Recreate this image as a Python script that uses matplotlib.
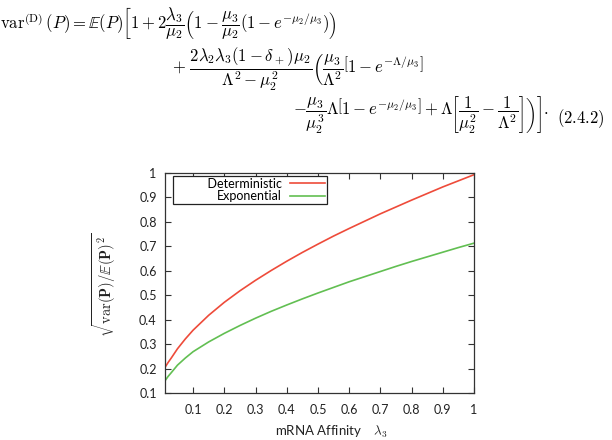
import matplotlib
matplotlib.use('Agg')
import matplotlib.pyplot as plt

plt.rcParams['font.family'] = ['Lato', 'DejaVu Sans']
plt.rcParams['mathtext.fontset'] = 'cm'

# 读图得到的曲线数据
affinity = [0.01, 0.02, 0.03, 0.05, 0.075, 0.1, 0.15, 0.2, 0.25, 0.3, 0.35, 0.4, 0.45,
            0.5, 0.55, 0.6, 0.65, 0.7, 0.75, 0.8, 0.85, 0.9, 0.95, 1.0]
deterministic = [0.205, 0.225, 0.243, 0.281, 0.321, 0.357, 0.418, 0.471, 0.518, 0.561, 0.601,
                 0.639, 0.675, 0.709, 0.742, 0.773, 0.803, 0.833, 0.861, 0.889, 0.916, 0.943,
                 0.968, 0.993]
exponential = [0.150, 0.168, 0.183, 0.214, 0.243, 0.269, 0.309, 0.344, 0.376, 0.406, 0.434,
               0.46, 0.485, 0.509, 0.532, 0.555, 0.576, 0.597, 0.618, 0.638, 0.657,
               0.676, 0.695, 0.713]
xticks = [0.1, 0.2, 0.3, 0.4, 0.5, 0.6, 0.7, 0.8, 0.9, 1.0]
xtick_labels = ['0.1', '0.2', '0.3', '0.4', '0.5', '0.6', '0.7', '0.8', '0.9', '1']
yticks = [0.1, 0.2, 0.3, 0.4, 0.5, 0.6, 0.7, 0.8, 0.9, 1.0]
ytick_labels = ['0.1', '0.2', '0.3', '0.4', '0.5', '0.6', '0.7', '0.8', '0.9', '1']

fig = plt.figure(figsize=(6.12, 4.4), dpi=100)

# 公式部分
eq_size = 12
fig.text(0.0, 1 - 24 / 440,
         r'$\mathrm{var}^{(\mathrm{D})}\,(P) = \mathbb{E}(P)\left[1 + 2\dfrac{\lambda_3}{\mu_2}'
         r'\left(1 - \dfrac{\mu_3}{\mu_2}(1 - e^{-\mu_2/\mu_3})\right)\right.$',
         fontsize=eq_size, va='center', ha='left')
fig.text(172 / 612, 1 - 69 / 440,
         r'$+\ \dfrac{2\lambda_2\lambda_3(1-\delta_+)\mu_2}{\Lambda^2 - \mu_2^2}'
         r'\left(\dfrac{\mu_3}{\Lambda^2}\left[1 - e^{-\Lambda/\mu_3}\right]\right.$',
         fontsize=eq_size, va='center', ha='left')
fig.text(293 / 612, 1 - 114 / 440,
         r'$-\dfrac{\mu_3}{\mu_2^3}\Lambda\left[1 - e^{-\mu_2/\mu_3}\right] + '
         r'\left.\left.\Lambda\left[\dfrac{1}{\mu_2^2} - \dfrac{1}{\Lambda^2}\right]\right)\right].$',
         fontsize=eq_size, va='center', ha='left')
fig.text(605 / 612, 1 - 119 / 440, r'$(2.4.2)$', fontsize=eq_size, va='center', ha='right')

ax = fig.add_axes([165 / 612, 1 - 393 / 440, 309 / 612, 220 / 440])
ax.plot(affinity, deterministic, color='#ee4b3a', lw=1.2, label=' ' * 10 + 'Deterministic')
ax.plot(affinity, exponential, color='#62bf52', lw=1.2, label='Exponential')

ax.set_xlim(0.01, 1.0)
ax.set_ylim(0.1, 1.0)
ax.set_xticks(xticks)
ax.set_xticklabels(xtick_labels)
ax.set_yticks(yticks)
ax.set_yticklabels(ytick_labels)
ax.tick_params(direction='in', length=4, width=0.8, top=True, right=True,
               labelsize=9, colors='#333333', labelcolor='#222222')
ax.tick_params(axis='x', pad=8)
ax.tick_params(axis='y', pad=6)
for sp in ax.spines.values():
    sp.set_color('#333333')
    sp.set_linewidth(0.9)

ax.set_xlabel(r'mRNA Affinity    $\lambda_3$', fontsize=9.5, color='#222222')
ax.xaxis.set_label_coords(0.537, -0.14)
ax.set_ylabel(r'$\sqrt{\mathrm{var}(\mathbf{P})/\mathbb{E}(\mathbf{P})^2}$', fontsize=10.5,
              color='#222222')
ax.yaxis.set_label_coords(-0.152, 0.49)

leg = ax.legend(loc='upper left', bbox_to_anchor=(7.7 / 309, 1 - 3 / 220),
                markerfirst=False, fancybox=False, framealpha=1,
                edgecolor='#222222', fontsize=9, handlelength=2.8, borderpad=0.15,
                labelspacing=0.05, handletextpad=0.7, borderaxespad=0)
leg.get_frame().set_linewidth(0.9)

fig.savefig('out.png', dpi=100)
